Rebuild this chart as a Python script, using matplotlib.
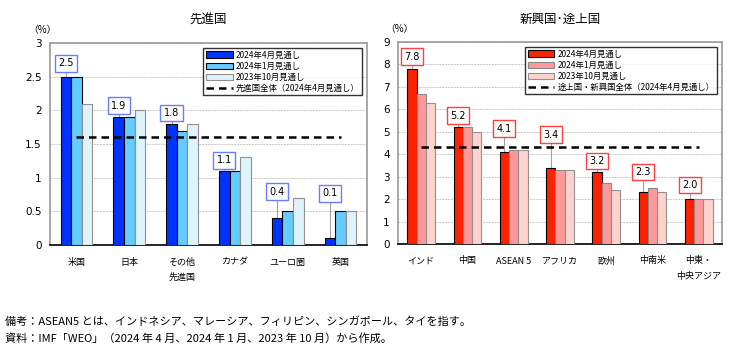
import matplotlib
matplotlib.use("Agg")
import matplotlib.pyplot as plt
import numpy as np
from matplotlib.patches import Patch
from matplotlib.lines import Line2D

plt.rcParams['font.family'] = ['Noto Sans CJK JP', 'DejaVu Sans']

# ---- data ----
adv_cats = ["米国", "日本", "その他\n先進国", "カナダ", "ユーロ圏", "英国"]
adv_apr24 = [2.5, 1.9, 1.8, 1.1, 0.4, 0.1]
adv_jan24 = [2.5, 1.9, 1.7, 1.1, 0.5, 0.5]
adv_oct23 = [2.1, 2.0, 1.8, 1.3, 0.7, 0.5]
adv_total = 1.6
adv_label_y = [2.70, 2.07, 1.96, 1.26, 0.79, 0.77]

emg_cats = ["インド", "中国", "ASEAN 5", "アフリカ", "欧州", "中南米", "中東・\n中央アジア"]
emg_apr24 = [7.8, 5.2, 4.1, 3.4, 3.2, 2.3, 2.0]
emg_jan24 = [6.7, 5.2, 4.2, 3.3, 2.7, 2.5, 2.0]
emg_oct23 = [6.3, 5.0, 4.2, 3.3, 2.4, 2.3, 2.0]
emg_total = 4.3
emg_label_y = [8.35, 5.72, 5.13, 4.87, 3.70, 3.21, 2.63]

series_names = ["2024年4月見通し", "2024年1月見通し", "2023年10月見通し"]

fig = plt.figure(figsize=(7.31, 3.51), dpi=100)
W, H = 731, 351


def px_axes(l, t, r, b):
    return fig.add_axes([l / W, 1 - b / H, (r - l) / W, (b - t) / H])


def draw(ax, cats, s1, s2, s3, total, label_y, colors, edges, ylim, yticks,
         ytlabels, title, total_name, box_edge, leg_bbox):
    x = np.arange(len(cats))
    w = 0.2
    for off, vals, c, e in zip([-w, 0, w], [s1, s2, s3], colors, edges):
        ax.bar(x + off, vals, width=w, color=c, edgecolor=e, linewidth=0.8, zorder=3)
    ax.plot([x[0], x[-1]], [total, total], color="black", linestyle=(0, (3, 2)),
            linewidth=1.8, zorder=4)
    for xi, v, ly in zip(x, s1, label_y):
        ax.plot([xi - w, xi - w], [v, ly], color="#a0a0a0", linewidth=0.8, zorder=2)
        ax.text(xi - w, ly, f"{v:.1f}", ha="center", va="center", fontsize=7,
                family=['DejaVu Sans'], zorder=6,
                bbox=dict(boxstyle="square,pad=0.35", fc="white", ec=box_edge, lw=1.0))
    ax.set_xlim(-0.5, len(cats) - 0.5)
    ax.set_ylim(*ylim)
    ax.set_yticks(yticks)
    ax.set_yticklabels(ytlabels, fontsize=7.5, family=['DejaVu Sans'])
    ax.set_xticks(x)
    ax.set_xticklabels(cats, fontsize=6.5, linespacing=1.9, va="top")
    ax.tick_params(axis="both", length=0, pad=6)
    ax.tick_params(axis="x", pad=9)
    ax.yaxis.grid(True, color="#c8c8c8", linestyle=(0, (2, 1)), linewidth=0.7, zorder=0)
    ax.set_axisbelow(True)
    for s in ["top", "right", "left"]:
        ax.spines[s].set_color("#9a9a9a")
        ax.spines[s].set_linewidth(1.2)
    ax.spines["bottom"].set_color("black")
    ax.spines["bottom"].set_linewidth(1.2)
    ax.set_title(title, fontsize=9, pad=14)
    handles = [Patch(facecolor=c, edgecolor=e, linewidth=0.8) for c, e in zip(colors, edges)]
    handles.append(Line2D([0], [0], color="black", linestyle=(0, (3, 2)), linewidth=1.8))
    leg = ax.legend(handles, series_names + [total_name], loc="upper right",
                    bbox_to_anchor=leg_bbox, fontsize=6, frameon=True, fancybox=False,
                    edgecolor="black", handlelength=3.2, handleheight=0.8,
                    borderpad=0.3, labelspacing=0.25, handletextpad=0.4, borderaxespad=0)
    leg.get_frame().set_linewidth(1.0)
    leg.set_zorder(10)


ax1 = px_axes(50, 43, 367, 245)
draw(ax1, adv_cats, adv_apr24, adv_jan24, adv_oct23, adv_total, adv_label_y,
     ["#0033ff", "#66ccff", "#dff3fd"], ["black", "black", "#909090"],
     (0, 3), [0, 0.5, 1, 1.5, 2, 2.5, 3], ["0", "0.5", "1", "1.5", "2", "2.5", "3"],
     "先進国", "先進国全体（2024年4月見通し）", "#6a7cff", (0.985, 0.975))
fig.text(42 / W, 1 - 30 / H, "（%）", fontsize=7, ha="center", va="center")

ax2 = px_axes(398, 42, 722, 244)
draw(ax2, emg_cats, emg_apr24, emg_jan24, emg_oct23, emg_total, emg_label_y,
     ["#ff2200", "#ff9999", "#ffd3cc"], ["black", "#888888", "#909090"],
     (0, 9), list(range(10)), [str(i) for i in range(10)],
     "新興国･途上国", "途上国・新興国全体（2024年4月見通し）", "#ff4040", (0.985, 0.975))
fig.text(399 / W, 1 - 29 / H, "（%）", fontsize=7, ha="center", va="center")

fig.text(5 / W, 1 - 322 / H, "備考：ASEAN5 とは、インドネシア、マレーシア、フィリピン、シンガポール、タイを指す。",
         fontsize=8, ha="left", va="center")
fig.text(5 / W, 1 - 338 / H, "資料：IMF「WEO」（2024 年 4 月、2024 年 1 月、2023 年 10 月）から作成。",
         fontsize=8, ha="left", va="center")

fig.savefig("out.png", dpi=100)
